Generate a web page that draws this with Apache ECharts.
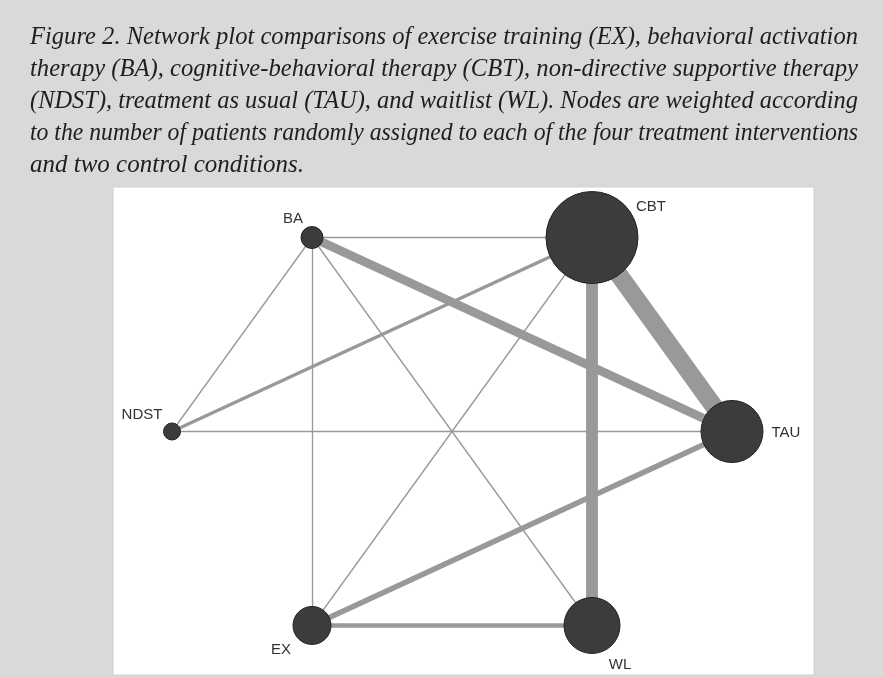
<!DOCTYPE html>
<html>
<head>
<meta charset="utf-8">
<script src="https://cdn.jsdelivr.net/npm/echarts@6/dist/echarts.min.js"></script>
<style>
  html, body { margin: 0; padding: 0; background: #d9d9d9; }
  #wrap { position: relative; width: 883px; height: 677px; overflow: hidden; background: #d9d9d9; }
  #chart { position: absolute; left: 0; top: 0; width: 883px; height: 677px; }
  #caption {
    position: absolute; left: 30px; top: 20px; width: 828px;
    font-family: "Liberation Serif", "Times New Roman", serif;
    font-style: italic; font-size: 25px; line-height: 32px; color: #1e1e1e;
  }
  #caption div { white-space: nowrap; height: 32px; }
  #caption span { display: inline-block; transform-origin: 0 50%; }
</style>
</head>
<body>
<div id="wrap">
  <div id="chart"></div>
  <div id="caption"></div>
</div>
<script>
// Figure caption, one entry per printed line
const captionLines = [
  "Figure 2. Network plot comparisons of exercise training (EX), behavioral activation",
  "therapy (BA), cognitive-behavioral therapy (CBT), non-directive supportive therapy",
  "(NDST), treatment as usual (TAU), and waitlist (WL). Nodes are weighted according",
  "to the number of patients randomly assigned to each of the four treatment interventions",
  "and two control conditions."
];

// Treatments, placed around a circle (layout coordinates)
const nodeNames = ["TAU", "CBT", "BA", "NDST", "EX", "WL"];
const nodeX = [1, 0.5, -0.5, -1, -0.5, 0.5];
const nodeY = [0, 0.866, 0.866, 0, -0.866, -0.866];
// Estimated number of randomised patients per node
const nodePatients = [961, 2116, 121, 72, 361, 784];

// Direct comparisons and estimated number of trials for each
const edgeSource  = ["BA", "BA", "BA", "BA", "BA", "NDST", "NDST", "CBT", "CBT", "CBT", "TAU", "EX"];
const edgeTarget  = ["CBT", "NDST", "EX", "WL", "TAU", "CBT", "TAU", "EX", "WL", "TAU", "EX", "WL"];
const edgeTrials  = [1, 1, 1, 1, 8, 3, 1, 1, 11, 17, 5, 4];

// Label placement around each node (pixel offsets from the node centre)
const labelOffset = {
  TAU: [54, 1], CBT: [59, -31], BA: [-19, -19],
  NDST: [-30, -17], EX: [-31, 24], WL: [28, 39]
};

// ---- caption: each line stretched to the full text width ----
(function buildCaption() {
  const box = document.getElementById("caption");
  const W = 828;
  captionLines.forEach(function (line, i) {
    const row = document.createElement("div");
    const span = document.createElement("span");
    span.textContent = line;
    row.appendChild(span);
    box.appendChild(row);
    if (i === captionLines.length - 1) return;
    const w = span.getBoundingClientRect().width;
    const spaces = (line.match(/ /g) || []).length;
    if (w <= W) {
      span.style.wordSpacing = ((W - w) / spaces) + "px";
    } else {
      span.style.transform = "scaleX(" + (W / w) + ")";
    }
  });
})();

// ---- network plot ----
const chart = echarts.init(document.getElementById("chart"), null, { renderer: "canvas" });

const nodes = nodeNames.map(function (name, i) {
  return {
    name: name,
    value: [nodeX[i], nodeY[i]],
    symbolSize: 2 * Math.sqrt(nodePatients[i]),
    label: { offset: labelOffset[name] }
  };
});

const links = edgeSource.map(function (s, i) {
  return {
    source: s,
    target: edgeTarget[i],
    lineStyle: { width: 0.3 + 1.05 * edgeTrials[i] }
  };
});

chart.setOption({
  animation: false,
  backgroundColor: "transparent",
  graphic: [{
    type: "rect",
    z: 0,
    shape: { x: 113, y: 187, width: 701, height: 488 },
    style: { fill: "#ffffff", stroke: "#d0d0d0", lineWidth: 1 }
  }],
  grid: { left: 158, top: 196.3, width: 588, height: 470.4 },
  xAxis: { type: "value", min: -1.05, max: 1.05, show: false },
  yAxis: { type: "value", min: -1.05, max: 1.05, show: false },
  series: [{
    type: "graph",
    coordinateSystem: "cartesian2d",
    z: 2,
    silent: true,
    data: nodes,
    links: links,
    symbol: "circle",
    itemStyle: { color: "#3c3c3c", borderColor: "#222222", borderWidth: 1 },
    lineStyle: { color: "#999999", opacity: 1, curveness: 0 },
    label: {
      show: true,
      position: "inside",
      formatter: "{b}",
      fontFamily: "Liberation Sans, Arial, sans-serif",
      fontSize: 15,
      color: "#333333"
    },
    emphasis: { disabled: true }
  }]
});
</script>
</body>
</html>
